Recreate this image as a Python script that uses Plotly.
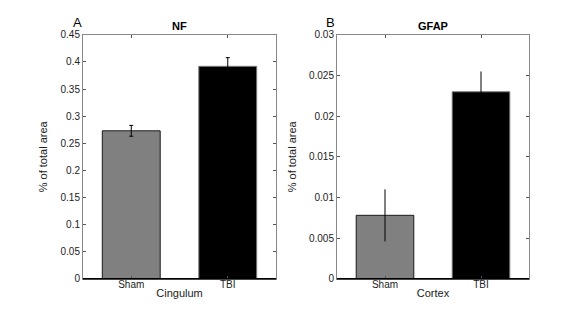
import plotly.graph_objects as go

categories = ["Sham", "TBI"]
nf_values = [0.273, 0.392]
nf_errors = [0.010, 0.016]
gfap_values = [0.0078, 0.0230]
gfap_errors = [0.0032, 0.0025]
nf_ticks = [0, 0.05, 0.1, 0.15, 0.2, 0.25, 0.3, 0.35, 0.4, 0.45]
nf_ticklabels = ["0", "0.05", "0.1", "0.15", "0.2", "0.25", "0.3", "0.35", "0.4", "0.45"]
gfap_ticks = [0, 0.005, 0.01, 0.015, 0.02, 0.025, 0.03]
gfap_ticklabels = ["0", "0.005", "0.01", "0.015", "0.02", "0.025", "0.03"]

bar_colors = ["#808080", "#000000"]
edge_colors = ["#1a1a1a", "#7a7a7a"]
FONT = "Liberation Sans, Arial, Helvetica, sans-serif"
W, H = 576, 310

fig = go.Figure()
xpos = [1, 2]
for i in range(2):
    fig.add_trace(go.Bar(
        x=[xpos[i]], y=[nf_values[i]], width=0.6,
        marker=dict(color=bar_colors[i], line=dict(color=edge_colors[i], width=1)),
        error_y=dict(type="data", array=[nf_errors[i]], color="black", thickness=1, width=2),
        xaxis="x", yaxis="y", showlegend=False))
    fig.add_trace(go.Bar(
        x=[xpos[i]], y=[gfap_values[i]], width=0.6,
        marker=dict(color=bar_colors[i], line=dict(color=edge_colors[i], width=1)),
        error_y=dict(type="data", array=[gfap_errors[i]], color="black", thickness=1, width=0),
        xaxis="x2", yaxis="y2", showlegend=False))

ydom = [1 - 275.5 / H, 1 - 22.7 / H]
common_x = dict(range=[0.5, 2.5], tickmode="array", tickvals=xpos, ticktext=categories,
                ticks="inside", ticklen=3, tickcolor="#555", showline=True, linecolor="#888",
                linewidth=1, mirror="ticks", showgrid=False, zeroline=False,
                ticklabelstandoff=-4,
                tickfont=dict(family=FONT, size=10, color="#222"))
common_y = dict(ticks="inside", ticklen=3, tickcolor="#555", showline=True, linecolor="#888",
                linewidth=1, mirror="ticks", showgrid=False, zeroline=False,
                tickfont=dict(family=FONT, size=10, color="#222"))

fig.update_layout(
    width=W, height=H, margin=dict(l=0, r=0, t=0, b=0),
    paper_bgcolor="white", plot_bgcolor="white", barmode="overlay",
    font=dict(family=FONT, size=10, color="#222"),
    xaxis=dict(domain=[75 / W, 268 / W], anchor="y",
               title=dict(text="Cingulum", standoff=0, font=dict(family=FONT, size=11, color="#222")),
               **common_x),
    yaxis=dict(domain=ydom, anchor="x", range=[0, 0.45], tickvals=nf_ticks, ticktext=nf_ticklabels,
               title=dict(text="% of total area", standoff=10, font=dict(family=FONT, size=11, color="#222")),
               **common_y),
    xaxis2=dict(domain=[329 / W, 521 / W], anchor="y2",
                title=dict(text="Cortex", standoff=0, font=dict(family=FONT, size=11, color="#222")),
                **common_x),
    yaxis2=dict(domain=ydom, anchor="x2", range=[0, 0.03], tickvals=gfap_ticks, ticktext=gfap_ticklabels,
                title=dict(text="% of total area", standoff=10, font=dict(family=FONT, size=11, color="#222")),
                **common_y),
)

# bottom axis line in black
for xr, yr in [("x", "y"), ("x2", "y2")]:
    fig.add_shape(type="line", xref=f"{xr} domain", yref=f"{yr} domain", x0=0, x1=1, y0=0, y1=0,
                  line=dict(color="black", width=1.5))

annots = [
    dict(text="<b>NF</b>", x=171 / W, y=1 - 13 / H),
    dict(text="<b>GFAP</b>", x=425 / W, y=1 - 13 / H),
]
for a in annots:
    fig.add_annotation(xref="paper", yref="paper", showarrow=False, xanchor="center", yanchor="middle",
                       font=dict(family=FONT, size=11, color="black"), **a)
fig.add_annotation(text="A", xref="paper", yref="paper", x=69 / W, y=1 - 10 / H, showarrow=False,
                   xanchor="center", yanchor="middle", font=dict(family=FONT, size=13, color="black"))
fig.add_annotation(text="B", xref="paper", yref="paper", x=322 / W, y=1 - 10 / H, showarrow=False,
                   xanchor="center", yanchor="middle", font=dict(family=FONT, size=13, color="black"))

fig.write_html("out.html")
